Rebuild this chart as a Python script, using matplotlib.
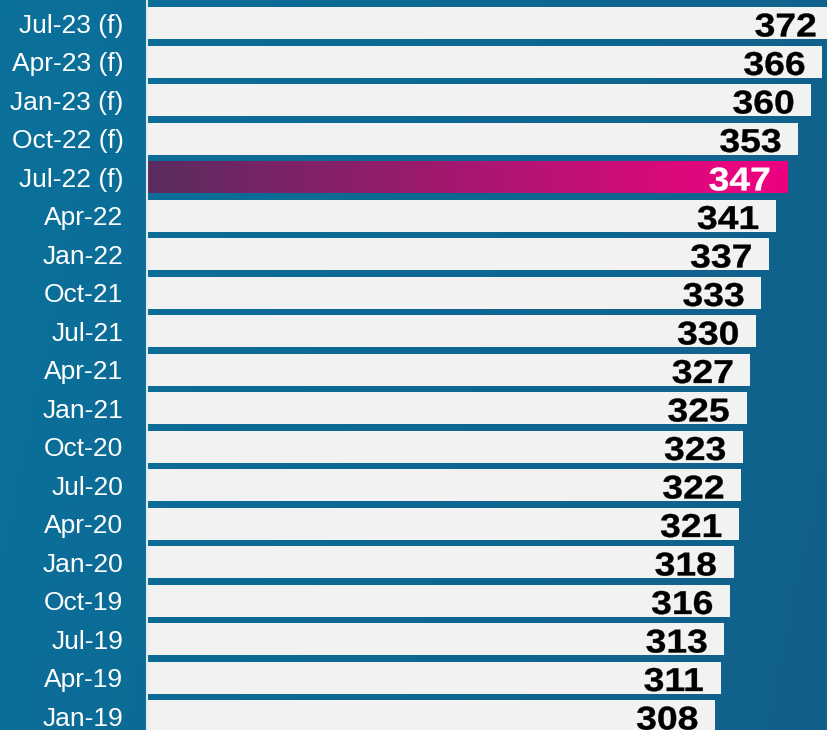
import numpy as np
import matplotlib
matplotlib.use('Agg')
import matplotlib.pyplot as plt
from matplotlib.colors import LinearSegmentedColormap
from matplotlib.textpath import TextPath
from matplotlib.patches import PathPatch
from matplotlib.font_manager import FontProperties
from matplotlib.transforms import Affine2D, ScaledTranslation

plt.rcParams['font.family'] = ['Liberation Sans', 'DejaVu Sans']

# data, bottom to top
periods = ['Jan-19', 'Apr-19', 'Jul-19', 'Oct-19', 'Jan-20', 'Apr-20', 'Jul-20',
           'Oct-20', 'Jan-21', 'Apr-21', 'Jul-21', 'Oct-21', 'Jan-22', 'Apr-22',
           'Jul-22 (f)', 'Oct-22 (f)', 'Jan-23 (f)', 'Apr-23 (f)', 'Jul-23 (f)']
values = [308, 311, 313, 316, 318, 321, 322, 323, 325, 327, 330, 333, 337, 341,
          347, 353, 360, 366, 372]
highlight = 'Jul-22 (f)'

W, H = 828, 730
fig = plt.figure(figsize=(W / 100, H / 100), dpi=100)

# background gradient
bg = fig.add_axes([0, 0, 1, 1], zorder=0)
bg_cmap = LinearSegmentedColormap.from_list('bg', ['#0a719b', '#0d6893', '#11608a'])
xx = np.linspace(0, 1, 256)
yy = np.linspace(0, 1, 64)
grad = xx[None, :] * 0.85 + yy[:, None] * 0.15
bg.imshow(grad, cmap=bg_cmap, aspect='auto', extent=[0, 1, 0, 1])
bg.set_axis_off()

ax = fig.add_axes([147 / W, 0, 681 / W, 1], zorder=1)
ax.set_facecolor('none')
ax.set_xlim(0, 681 / 1.845)
ax.set_ylim(-0.36, 18.6)

y = np.arange(len(periods))
bar_h = 0.83
colors = ['#f2f2f2' if p != highlight else 'none' for p in periods]
ax.barh(y, values, height=bar_h, color=colors, zorder=2)

# gradient highlight bar
hi = periods.index(highlight)
hl_cmap = LinearSegmentedColormap.from_list('hl', [(0, '#5a2c5f'), (0.93, '#ea0580'),
                                                    (1, '#ec0080')])
ax.imshow(np.linspace(0, 1, 256)[None, :], cmap=hl_cmap, aspect='auto',
          extent=[0, values[hi], hi - bar_h / 2, hi + bar_h / 2], zorder=2)

# value labels: bold, slightly widened, drawn as text paths
prop = FontProperties(family='Liberation Sans', weight='bold')
sx, sy = 1.13, 1.0
for i, v in enumerate(values):
    tp = TextPath((0, 0), str(v), size=33, prop=prop)
    ext = tp.get_extents()
    dx = -18 - ext.x1 * sx
    dy = -2 - (ext.y0 + ext.y1) / 2 * sy
    tr = Affine2D().scale(sx, sy).translate(dx, dy) + ScaledTranslation(v, i, ax.transData)
    col = 'white' if periods[i] == highlight else 'black'
    ax.add_patch(PathPatch(tp, transform=tr, facecolor=col, edgecolor=col,
                           linewidth=0.25, clip_on=False, zorder=3))

ax.set_yticks(y)
ax.set_yticklabels(periods, fontsize=19, color='white')
ax.tick_params(axis='y', length=0, pad=17)
ax.set_xticks([])
for s in ['top', 'right', 'bottom']:
    ax.spines[s].set_visible(False)
ax.spines['left'].set_color('#dfe9ef')
ax.spines['left'].set_linewidth(1.5)
ax.spines['left'].set_zorder(4)

fig.savefig('out.png', dpi=100)
